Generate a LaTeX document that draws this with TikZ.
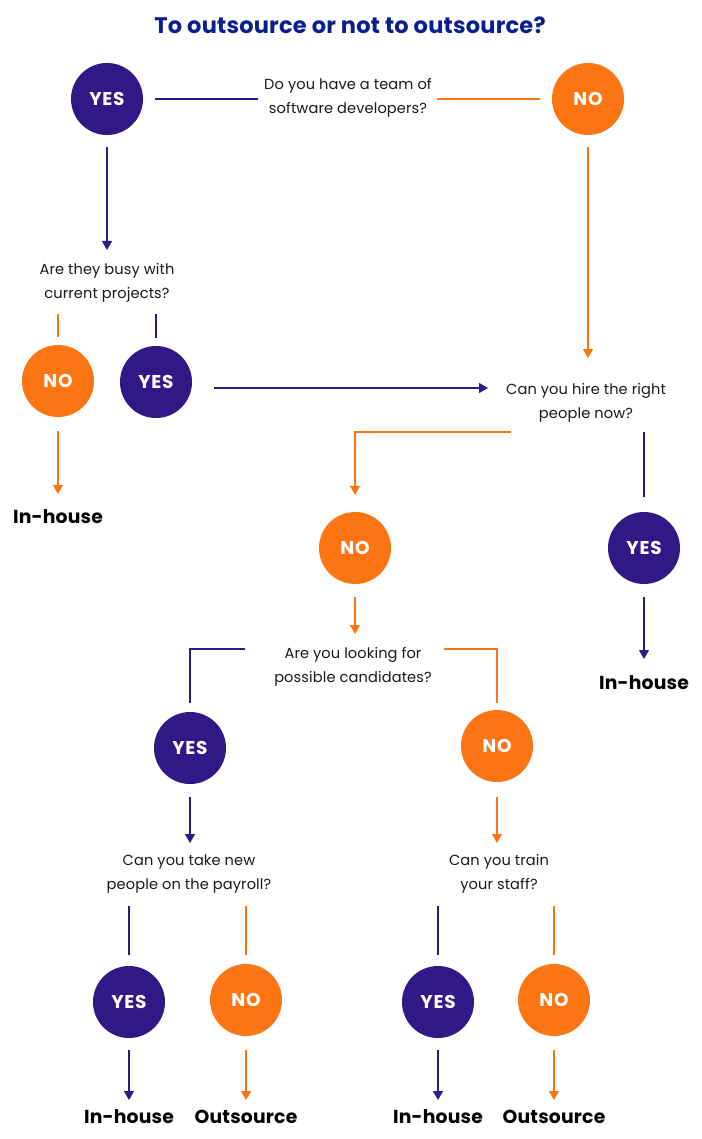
\documentclass[tikz,border=0pt]{standalone}
\usepackage{fontspec}
\setmainfont{Poppins}
\usetikzlibrary{arrows.meta,calc}
\definecolor{pur}{HTML}{311887}
\definecolor{org}{HTML}{FD7513}
\definecolor{ttl}{HTML}{0C1E8E}
\begin{document}
\begin{tikzpicture}[x=1pt,y=-1pt,
  yesc/.style={circle,fill=pur,minimum size=72pt,inner sep=0pt,text=white,font=\addfontfeatures{LetterSpace=4}\bfseries\fontsize{18.5}{18.5}\selectfont},
  noc/.style={circle,fill=org,minimum size=72pt,inner sep=0pt,text=white,font=\addfontfeatures{LetterSpace=4}\bfseries\fontsize{18.5}{18.5}\selectfont},
  qtext/.style={align=center,inner sep=0pt,font=\addfontfeatures{LetterSpace=0.8}\fontsize{14.6}{24.5}\selectfont,text=black!90},
  res/.style={inner sep=0pt,font=\addfontfeatures{LetterSpace=1}\bfseries\fontsize{18.8}{20}\selectfont,text=black},
  pl/.style={draw=pur,line width=1.2pt},
  ol/.style={draw=org,line width=1.2pt},
  tip/.style={-{Triangle[width=10pt,length=9pt]}}]
\useasboundingbox (0,0) rectangle (701,1139);
\fill[white] (0,0) rectangle (701,1139);

\node[inner sep=0pt,text=ttl,font=\addfontfeatures{LetterSpace=1}\bfseries\fontsize{22.5}{24}\selectfont] (title) at (350,25) {To outsource or not to outsource?};

% level 1
\node[yesc] (yes1) at (107,99) {YES};
\node[noc] (no1) at (588,99) {NO};
\node[qtext] (q1) at (348,98) {Do you have a team of\\software developers?};

% level 2 (left)
\node[qtext] (q2) at (107,283) {Are they busy with\\current projects?};
\node[noc] (no2) at (58,381) {NO};
\node[yesc] (yes2) at (156,382) {YES};
\node[res] (inh1) at (58,517) {In-house};

% Q3
\node[qtext] (q3) at (586,403) {Can you hire the right\\people now?};
\node[noc] (no3) at (355,548) {NO};
\node[yesc] (yes3) at (644,548) {YES};
\node[res] (inh2) at (644,683) {In-house};

% Q4
\node[qtext] (q4) at (353,667) {Are you looking for\\possible candidates?};
\node[yesc] (yes4) at (190,748) {YES};
\node[noc] (no4) at (497,746) {NO};

% Q5, Q6
\node[qtext] (q5) at (189,874) {Can you take new\\people on the payroll?};
\node[qtext] (q6) at (499,874) {Can you train\\your staff?};
\node[yesc] (yes5) at (129,1002) {YES};
\node[noc] (no5) at (246,1000) {NO};
\node[yesc] (yes6) at (438,1002) {YES};
\node[noc] (no6) at (554,1000) {NO};
\node[res] (inh3) at (129,1117) {In-house};
\node[res] (out1) at (246,1117) {Outsource};
\node[res] (inh4) at (438,1117) {In-house};
\node[res] (out2) at (554,1117) {Outsource};

% free-end coordinates near question texts
\coordinate (q1l) at (258,99);
\coordinate (q1r) at (437,99);
\coordinate (q2a) at (107,250);
\coordinate (q2l) at (58,314);
\coordinate (q2r) at (156,314);
\coordinate (q3a) at (488,388);
\coordinate (q3b) at (588,358);
\coordinate (q3l) at (511,432);
\coordinate (q3r) at (644,432);
\coordinate (q4a) at (355,634);
\coordinate (q4l) at (245,649);
\coordinate (q4r) at (444,649);
\coordinate (q5a) at (190,843);
\coordinate (q6a) at (497,843);
\coordinate (q5l) at (129,906);
\coordinate (q5r) at (246,906);
\coordinate (q6l) at (438,906);
\coordinate (q6r) at (554,906);

% connectors
\draw[pl] ($(yes1.east)+(12,0)$) -- (q1l);
\draw[ol] (q1r) -- ($(no1.west)+(-12,0)$);
\draw[pl,tip] ($(yes1.south)+(0,12)$) -- (q2a);
\draw[ol] (q2l) -- ($(no2.north)+(0,-8)$);
\draw[pl] (q2r) -- ($(yes2.north)+(0,-8)$);
\draw[ol,tip] ($(no2.south)+(0,14)$) -- (58,494);
\draw[pl,tip] ($(yes2.east)+(22,6)$) -- (q3a);
\draw[ol,tip] ($(no1.south)+(0,12)$) -- (q3b);
\draw[ol,tip] (q3l) -| ($(no3.north)+(0,-17)$);
\draw[pl] (q3r) -- ($(yes3.north)+(0,-15)$);
\draw[pl,tip] ($(yes3.south)+(0,13)$) -- (644,659);
\draw[ol,tip] ($(no3.south)+(0,13)$) -- (q4a);
\draw[pl] (q4l) -| ($(yes4.north)+(0,-9)$);
\draw[ol] (q4r) -| ($(no4.north)+(0,-7)$);
\draw[pl,tip] ($(yes4.south)+(0,13)$) -- (q5a);
\draw[ol,tip] ($(no4.south)+(0,15)$) -- (q6a);
\draw[pl] (q5l) -- ($(yes5.north)+(0,-11)$);
\draw[ol] (q5r) -- ($(no5.north)+(0,-9)$);
\draw[pl] (q6l) -- ($(yes6.north)+(0,-11)$);
\draw[ol] (q6r) -- ($(no6.north)+(0,-9)$);
\draw[pl,tip] ($(yes5.south)+(0,12)$) -- (129,1100);
\draw[ol,tip] ($(no5.south)+(0,14)$) -- (246,1100);
\draw[pl,tip] ($(yes6.south)+(0,12)$) -- (438,1100);
\draw[ol,tip] ($(no6.south)+(0,14)$) -- (554,1100);
\end{tikzpicture}
\end{document}
